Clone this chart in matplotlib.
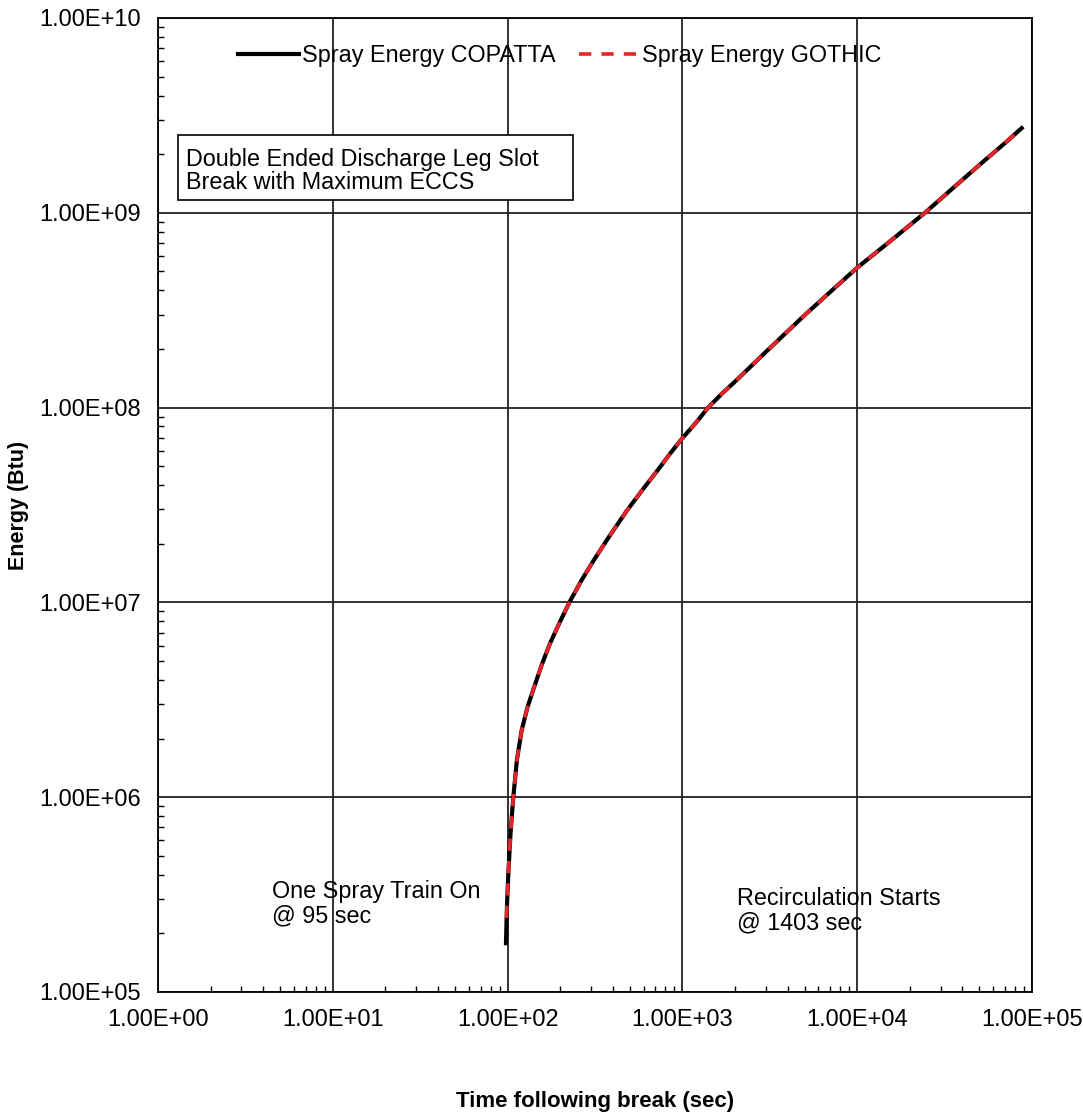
import matplotlib
matplotlib.use("Agg")
import matplotlib.pyplot as plt
from matplotlib.patches import Rectangle
from matplotlib.ticker import LogLocator, FuncFormatter, NullFormatter

plt.rcParams['font.family'] = ['Liberation Sans', 'DejaVu Sans']

# Data
time_copatta = [97.9, 98.6, 99.5, 101, 104, 107.8, 113, 120.4, 130, 140, 157, 175, 200,
                227, 265, 309, 380, 480, 600, 745, 850, 991, 1200, 1403, 1700, 2000, 3036,
                5000, 7000, 9930, 15000, 24400, 35000, 50000, 70000, 87300]
energy_copatta = [1.78e5, 2.3e5, 3.0e5, 4.08e5, 6.6e5, 1.0e6, 1.55e6, 2.21e6, 2.9e6, 3.55e6,
                  4.8e6, 6.17e6, 8.0e6, 1.01e7, 1.3e7, 1.63e7, 2.17e7, 2.95e7, 3.85e7,
                  4.95e7, 5.8e7, 6.9e7, 8.4e7, 1.0e8, 1.19e8, 1.36e8, 1.95e8, 2.98e8,
                  3.92e8, 5.2e8, 7.0e8, 1.0e9, 1.33e9, 1.76e9, 2.28e9, 2.72e9]
time_gothic = [98.6, 99.5, 101, 104, 107.8, 113, 120.4, 130, 140, 157, 175, 200,
               227, 265, 309, 380, 480, 600, 745, 850, 991, 1200, 1403, 1700, 2000, 3036,
               5000, 7000, 9930, 15000, 24400, 35000, 50000, 70000, 87300]
energy_gothic = [2.4e5, 3.0e5, 4.08e5, 6.6e5, 1.0e6, 1.55e6, 2.21e6, 2.9e6, 3.55e6,
                 4.8e6, 6.17e6, 8.0e6, 1.01e7, 1.3e7, 1.63e7, 2.17e7, 2.95e7, 3.85e7,
                 4.95e7, 5.8e7, 6.9e7, 8.4e7, 1.0e8, 1.19e8, 1.36e8, 1.95e8, 2.98e8,
                 3.92e8, 5.2e8, 7.0e8, 1.0e9, 1.33e9, 1.76e9, 2.28e9, 2.72e9]

xlim = (1, 1e5)
ylim = (1e5, 1e10)

fig = plt.figure(figsize=(10.83, 11.16), dpi=100)
ax = fig.add_axes([158/1083, 1-992/1116, (1032-158)/1083, (992-18)/1116])

ax.plot(time_copatta, energy_copatta, color='black', lw=3.0, label='Spray Energy COPATTA', zorder=3)
ax.plot(time_gothic, energy_gothic, color='#e8242b', lw=2.6, ls=(0, (3.4, 2.8)),
        label='Spray Energy GOTHIC', zorder=4)

ax.set_xscale('log')
ax.set_yscale('log')
ax.set_xlim(*xlim)
ax.set_ylim(*ylim)

fmt = FuncFormatter(lambda v, p: f"{v:.2E}")
ax.xaxis.set_major_locator(LogLocator(base=10, numticks=10))
ax.yaxis.set_major_locator(LogLocator(base=10, numticks=10))
ax.xaxis.set_minor_locator(LogLocator(base=10, subs=range(2, 10), numticks=20))
ax.yaxis.set_minor_locator(LogLocator(base=10, subs=range(2, 10), numticks=20))
ax.xaxis.set_major_formatter(fmt)
ax.yaxis.set_major_formatter(fmt)
ax.xaxis.set_minor_formatter(NullFormatter())
ax.yaxis.set_minor_formatter(NullFormatter())

ax.grid(True, which='major', color='#222222', lw=1.3)
ax.set_axisbelow(True)
ax.tick_params(which='both', direction='in', labelsize=17, colors='black')
ax.tick_params(which='major', length=0, pad=12)
ax.tick_params(which='minor', length=4, width=1)
for s in ax.spines.values():
    s.set_color('black')
    s.set_linewidth(1.3)

ax.set_ylabel('Energy (Btu)', fontsize=15.5, fontweight='bold')
ax.yaxis.set_label_coords(-0.148, 0.5)
ax.set_xlabel('Time following break (sec)', fontsize=16, fontweight='bold')
ax.xaxis.set_label_coords(0.5, -0.102)

leg = ax.legend(loc='upper center', bbox_to_anchor=(0.46, 0.995), ncol=2, frameon=False,
                fontsize=16.8, handlelength=2.6, handletextpad=0.12, columnspacing=1.0)

ax.add_patch(Rectangle((0.0229, 0.813), 0.452, 0.0667, transform=ax.transAxes,
                       facecolor='white', edgecolor='black', lw=1.2, zorder=5))
ax.text(0.032, 0.8665, 'Double Ended Discharge Leg Slot\nBreak with Maximum ECCS',
        transform=ax.transAxes, fontsize=16.8, va='top', ha='left', linespacing=1.0,
        zorder=6)
ax.text(0.130, 0.115, 'One Spray Train On\n@ 95 sec', transform=ax.transAxes,
        fontsize=16.8, va='top', ha='left', linespacing=1.1)
ax.text(0.6625, 0.108, 'Recirculation Starts\n@ 1403 sec', transform=ax.transAxes,
        fontsize=16.8, va='top', ha='left', linespacing=1.1)

fig.savefig('out.png', dpi=100)
